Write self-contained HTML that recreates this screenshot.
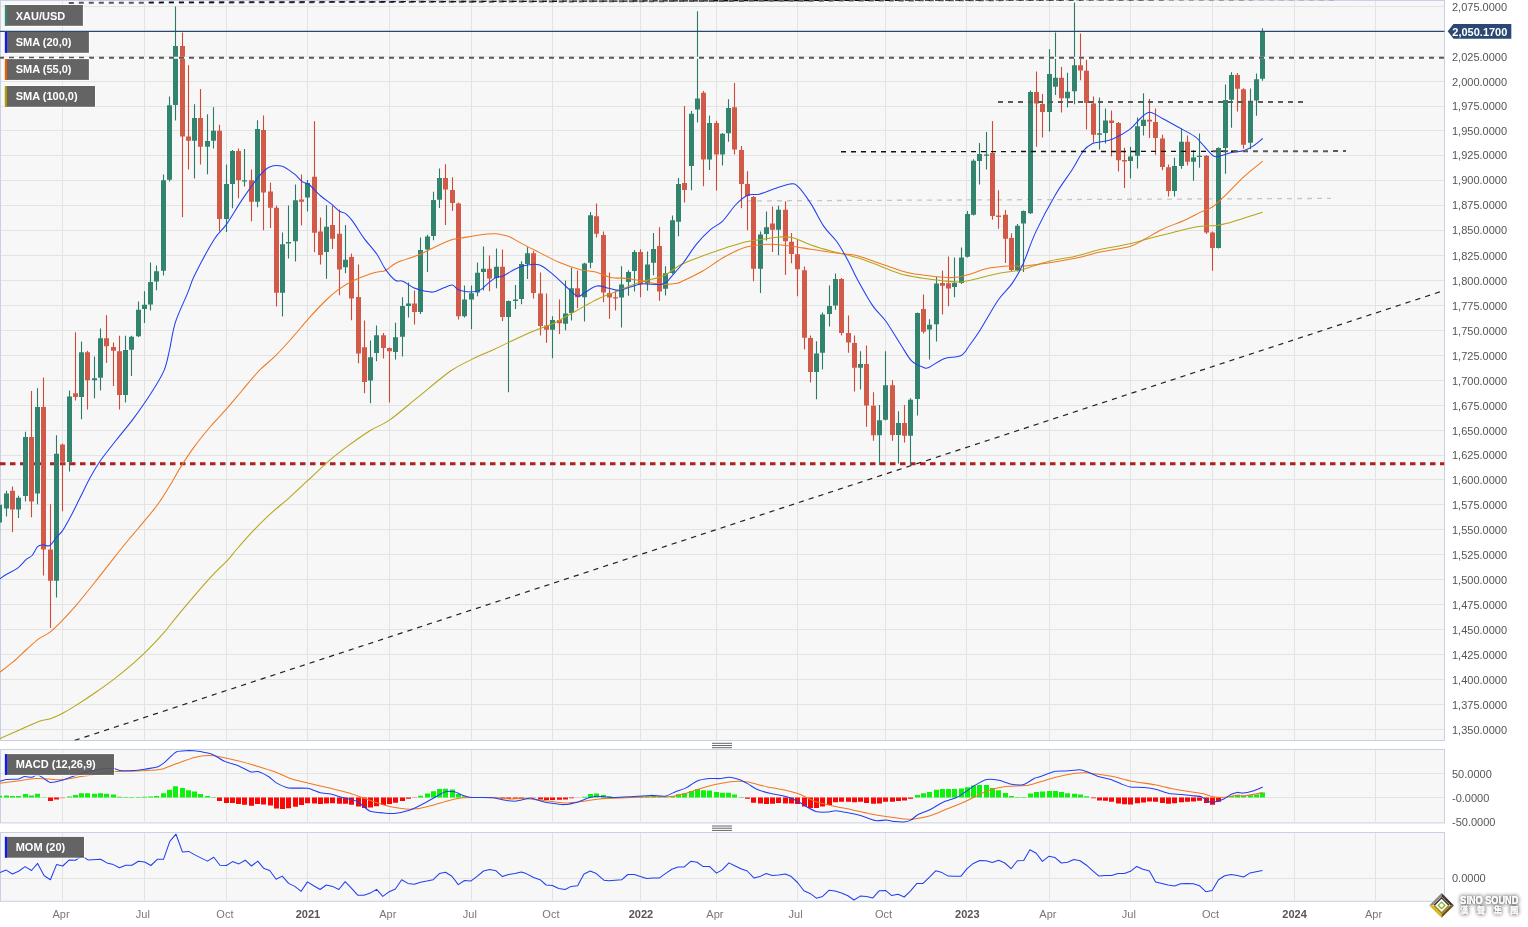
<!DOCTYPE html>
<html lang="en"><head><meta charset="utf-8"><title>XAU/USD weekly chart</title>
<style>
html,body{margin:0;padding:0;background:#fff;}
body{width:1528px;height:927px;overflow:hidden;font-family:"Liberation Sans", Arial, sans-serif;}
svg{display:block;}
</style></head><body>
<svg width="1528" height="927" viewBox="0 0 1528 927" font-family="'Liberation Sans', Arial, sans-serif">
<defs>
<clipPath id="cm"><rect x="0" y="0" width="1444.5" height="740.5"/></clipPath>
<clipPath id="cd"><rect x="0" y="749.5" width="1444.5" height="73.4"/></clipPath>
<clipPath id="co"><rect x="0" y="832.5" width="1444.5" height="68.8"/></clipPath>
<filter id="sh" x="-20%" y="-40%" width="140%" height="180%"><feGaussianBlur in="SourceAlpha" stdDeviation="1.9"/><feOffset dx="0.2" dy="0.3"/><feComponentTransfer><feFuncA type="linear" slope="0.62"/></feComponentTransfer><feMerge><feMergeNode/><feMergeNode/><feMergeNode in="SourceGraphic"/></feMerge></filter>
</defs>
<rect width="1528" height="927" fill="#fff"/>
<rect x="0.5" y="0.5" width="1444" height="740" fill="#f7f7f7" stroke="#c8d0e3" stroke-width="1"/>
<rect x="0.5" y="749.5" width="1444" height="73.4" fill="#f7f7f7" stroke="#c8d0e3" stroke-width="1"/>
<rect x="0.5" y="832.5" width="1444" height="68.8" fill="#f7f7f7" stroke="#c8d0e3" stroke-width="1"/>
<path d="M1 6.5 H1444 M1 31.5 H1444 M1 56.5 H1444 M1 81.5 H1444 M1 106.5 H1444 M1 130.5 H1444 M1 155.5 H1444 M1 180.5 H1444 M1 205.5 H1444 M1 230.5 H1444 M1 255.5 H1444 M1 280.5 H1444 M1 305.5 H1444 M1 330.5 H1444 M1 355.5 H1444 M1 380.5 H1444 M1 405.5 H1444 M1 430.5 H1444 M1 455.5 H1444 M1 479.5 H1444 M1 504.5 H1444 M1 529.5 H1444 M1 554.5 H1444 M1 579.5 H1444 M1 604.5 H1444 M1 629.5 H1444 M1 654.5 H1444 M1 679.5 H1444 M1 704.5 H1444 M1 729.5 H1444 M1 773.5 H1444 M1 797.5 H1444 M1 878.5 H1444 M62.5 1 V740 M62.5 750 V822.4 M62.5 833 V900.8 M144.5 1 V740 M144.5 750 V822.4 M144.5 833 V900.8 M226.5 1 V740 M226.5 750 V822.4 M226.5 833 V900.8 M307.5 1 V740 M307.5 750 V822.4 M307.5 833 V900.8 M389.5 1 V740 M389.5 750 V822.4 M389.5 833 V900.8 M471.5 1 V740 M471.5 750 V822.4 M471.5 833 V900.8 M552.5 1 V740 M552.5 750 V822.4 M552.5 833 V900.8 M640.5 1 V740 M640.5 750 V822.4 M640.5 833 V900.8 M716.5 1 V740 M716.5 750 V822.4 M716.5 833 V900.8 M797.5 1 V740 M797.5 750 V822.4 M797.5 833 V900.8 M885.5 1 V740 M885.5 750 V822.4 M885.5 833 V900.8 M966.5 1 V740 M966.5 750 V822.4 M966.5 833 V900.8 M1049.5 1 V740 M1049.5 750 V822.4 M1049.5 833 V900.8 M1130.5 1 V740 M1130.5 750 V822.4 M1130.5 833 V900.8 M1212.5 1 V740 M1212.5 750 V822.4 M1212.5 833 V900.8 M1294.5 1 V740 M1294.5 750 V822.4 M1294.5 833 V900.8 M1375.5 1 V740 M1375.5 750 V822.4 M1375.5 833 V900.8" stroke="#e3e3e3" stroke-width="1" fill="none"/>
<g clip-path="url(#cm)">
<path d="M747 200.9 L1331 198.4" stroke="#c6c6c6" stroke-width="1.3" stroke-dasharray="5 5" fill="none"/>
<path d="M0 463.8 H1444.5" stroke="#b01e1e" stroke-width="3" stroke-dasharray="5.5 4.5" fill="none"/>
<path d="M74.7 740.4 L1444.1 290.5" stroke="#222" stroke-width="1.2" stroke-dasharray="5.2 5.1" fill="none"/>
<path d="M12.5 486.4 V532.3 M31.5 391.1 V517.2 M43.5 377.5 V575.5 M50.5 504.3 V628.1 M62.5 443.5 V511.2 M75.5 332.2 V400.4 M87.5 350.8 V409.4 M106.5 315.2 V363.1 M113.5 342.6 V386.1 M119.5 335.7 V409.4 M182.5 32.4 V217.3 M188.5 65.2 V169.4 M200.5 89.1 V164.5 M219.5 124.7 V231.6 M238.5 148.4 V198.3 M251.5 169.4 V221.2 M263.5 115.4 V230.3 M270.5 182.4 V228.1 M276.5 205.7 V306.4 M301.5 174.4 V225.5 M314.5 121.2 V252.3 M320.5 217.5 V264.4 M332.5 205.7 V248.9 M339.5 209.6 V295.3 M351.5 253.4 V320.2 M358.5 264.5 V363.3 M364.5 320.6 V393.3 M383.5 333.1 V358.4 M389.5 347.6 V402.6 M414.5 290.5 V324.5 M445.5 164.3 V225.1 M452.5 177.2 V211.1 M458.5 202.5 V319.5 M489.5 255.4 V291.2 M502.5 249.4 V321.2 M533.5 251.1 V298.5 M540.5 272.6 V335.6 M546.5 293.6 V342.8 M559.5 299.4 V334.1 M577.5 270.5 V308.2 M596.5 203.4 V237.5 M603.5 231.4 V302.2 M609.5 272.4 V318.8 M615.5 290.8 V310.4 M640.5 249.3 V297.2 M659.5 227.3 V300.7 M684.5 106.1 V202.4 M703.5 91 V186.3 M716.5 120.8 V190.4 M734.5 83.1 V154.4 M741.5 146.1 V208.3 M747.5 171.3 V230.3 M753.5 196 V281.2 M772.5 206.5 V252 M785.5 201.3 V275.1 M791.5 233.1 V263.3 M797.5 239.5 V296.3 M804.5 266.5 V349.5 M810.5 335.4 V382.5 M841.5 278 V335.6 M848.5 315.5 V352.7 M854.5 335.6 V391.5 M866.5 345.4 V426.7 M873.5 392.2 V440.7 M892.5 380.3 V440.7 M904.5 405.1 V442.5 M923.5 294.4 V333.5 M942.5 270.4 V314.5 M948.5 256.4 V306.3 M992.5 121.1 V219.7 M998.5 190.2 V228.8 M1005.5 210 V262.9 M1011.5 233.3 V271.5 M1036.5 71.6 V146.7 M1042.5 93.9 V137.6 M1061.5 66.9 V112.6 M1080.5 33.4 V80.3 M1086.5 59.8 V129.6 M1093.5 96.4 V142.7 M1111.5 110.5 V156.4 M1118.5 121.9 V171.5 M1124.5 147.8 V188.1 M1149.5 99.1 V138 M1155.5 108.5 V154.8 M1162.5 134.7 V170.3 M1168.5 164.4 V196.4 M1187.5 135.4 V165.6 M1206.5 155 V234.1 M1212.5 231.5 V270.8 M1237.5 73.1 V111.6 M1243.5 88.2 V148.8" stroke="#cc4a38" stroke-width="1.1" fill="none"/>
<path d="M-0.5 500 V533.2 M6.5 490.7 V516.6 M18.5 495.7 V518.1 M25.5 431.7 V501.5 M37.5 388.3 V504.3 M56.5 435.3 V597.5 M69.5 390.5 V471.6 M81.5 341.5 V419.2 M94.5 356.6 V398.2 M100.5 328.5 V390.5 M125.5 335.7 V402.5 M131.5 335.7 V376 M138.5 301.6 V337 M144.5 291.2 V323.1 M150.5 262.6 V310.5 M156.5 265.4 V290.2 M163.5 174.4 V275.6 M169.5 96.4 V181.5 M175.5 6.5 V120.4 M194.5 104.2 V178.6 M207.5 114.3 V174.3 M213.5 107.2 V148.4 M226.5 164.4 V232 M232.5 150 V208.3 M244.5 148.9 V186.4 M257.5 120.2 V207.2 M282.5 232.6 V316.6 M288.5 205.4 V258.5 M295.5 184.5 V261.5 M307.5 180.1 V211.5 M326.5 205.3 V278.7 M345.5 225.1 V273.2 M370.5 340.5 V403.2 M376.5 325.6 V361.2 M395.5 322.8 V359.4 M402.5 297.3 V356.6 M408.5 282.6 V317.4 M420.5 237.5 V314.1 M427.5 234.8 V272.1 M433.5 191.7 V240.3 M439.5 168.4 V207.9 M464.5 285.4 V317.4 M471.5 285.4 V329.2 M477.5 262.4 V296.2 M483.5 246.5 V290.5 M496.5 248.4 V288.2 M508.5 300.5 V392.2 M515.5 284.9 V309.1 M521.5 261.2 V304.3 M527.5 247.2 V279.1 M552.5 316.2 V358.3 M565.5 280.6 V330.2 M571.5 267.7 V320.5 M584.5 262.8 V321.6 M590.5 212 V268.3 M621.5 266.2 V327.4 M628.5 270.3 V295.7 M634.5 250 V291.4 M647.5 251.5 V290.8 M653.5 233.1 V275.2 M665.5 266.2 V295.4 M672.5 215.6 V274.1 M678.5 178 V236.3 M691.5 111.1 V190.2 M697.5 11.2 V122.5 M709.5 115.4 V170.1 M722.5 133 V165.4 M728.5 99.2 V141.7 M760.5 231.6 V293 M766.5 211.5 V240.6 M778.5 205.7 V255.3 M816.5 341.2 V399.3 M822.5 312.6 V369.5 M829.5 285.4 V326.4 M835.5 273.4 V309.8 M860.5 351.2 V389.4 M879.5 405.1 V465.1 M885.5 351.2 V420.5 M898.5 411.2 V463.4 M910.5 398.2 V465.1 M917.5 312.5 V415.5 M929.5 319.3 V359.4 M936.5 276.9 V341.5 M954.5 257.5 V297.3 M961.5 247.4 V284 M967.5 211.1 V257.5 M973.5 159.3 V215.5 M979.5 143.1 V184.6 M986.5 131.9 V169.5 M1017.5 224.1 V271.5 M1023.5 210.5 V272 M1030.5 90.6 V214 M1049.5 49.2 V131.4 M1055.5 32.4 V94.9 M1067.5 72.7 V107.4 M1074.5 2.6 V104.2 M1099.5 97.5 V149.4 M1105.5 108.5 V143.5 M1130.5 146.7 V178.6 M1137.5 117.6 V168.4 M1143.5 93.3 V135.4 M1174.5 157.7 V196.4 M1181.5 128.4 V168.7 M1193.5 150.1 V180.7 M1199.5 133.4 V167.7 M1218.5 147.2 V248.5 M1225.5 84.4 V173.7 M1231.5 72.3 V127.7 M1250.5 88.5 V149.3 M1256.5 73.4 V115.7 M1262.5 28.3 V80.7" stroke="#2a7a66" stroke-width="1.1" fill="none"/>
<path d="M10 490.7h5v18.8h-5z M29 437.1h5v64.4h-5z M41 406.9h5v142.7h-5z M48 549.6h5v31.1h-5z M60 444.4h5v17.4h-5z M73 393.3h5v3.6h-5z M85 352.3h5v28h-5z M104 338.3h5v7.9h-5z M111 346.9h5v3.9h-5z M117 351.2h5v43.8h-5z M180 46h5v90.6h-5z M186 136.6h5v4.1h-5z M198 118h5v28.7h-5z M217 130.7h5v88.3h-5z M236 151h5v29.2h-5z M249 180.2h5v21.6h-5z M261 129.9h5v62.7h-5z M268 191.5h5v16.3h-5z M274 207.8h5v85h-5z M299 199.6h5v2.2h-5z M312 176.8h5v55.9h-5z M318 231.6h5v23.4h-5z M330 225.1h5v13.6h-5z M337 233.8h5v35.6h-5z M349 257h5v41.6h-5z M356 296.9h5v56.7h-5z M362 347.2h5v34.9h-5z M381 335.3h5v12.7h-5z M387 348h5v3.3h-5z M412 303.4h5v8.6h-5z M443 178.1h5v11.4h-5z M450 190h5v13.1h-5z M456 203.6h5v112.7h-5z M487 268.8h5v9.7h-5z M500 266.8h5v50.3h-5z M531 253.2h5v39.7h-5z M538 293.6h5v32.3h-5z M544 325.5h5v4.3h-5z M557 320.1h5v3.2h-5z M575 288.2h5v9h-5z M594 216.3h5v17.5h-5z M601 234.9h5v57.6h-5z M607 293.1h5v4.3h-5z M613 297.2h5v1.2h-5z M638 251.9h5v32.4h-5z M657 246.1h5v45.3h-5z M682 183h5v6.9h-5z M701 92.8h5v66.7h-5z M714 123h5v31.6h-5z M732 107.2h5v42.3h-5z M739 149.9h5v34.1h-5z M745 184h5v12h-5z M751 197h5v71.7h-5z M770 223.4h5v6.4h-5z M783 209.8h5v31.5h-5z M789 241.7h5v12.3h-5z M795 254.2h5v15.1h-5z M802 270.2h5v67.6h-5z M808 337.9h5v34.2h-5z M839 279h5v53.9h-5z M846 333.1h5v9.5h-5z M852 343h5v24.8h-5z M864 364.1h5v41.5h-5z M871 405.8h5v29.5h-5z M890 385.3h5v49.6h-5z M902 423h5v12.8h-5z M921 309.1h5v22.7h-5z M940 283h5v2.7h-5z M946 283.2h5v5.2h-5z M990 152.9h5v63.2h-5z M996 215.4h5v1.5h-5z M1003 214.8h5v23.9h-5z M1009 238.1h5v31.9h-5z M1034 92.1h5v11.5h-5z M1040 104h5v8.1h-5z M1059 77.7h5v20.5h-5z M1078 65.2h5v5.4h-5z M1084 70.8h5v32.3h-5z M1091 103.6h5v31.1h-5z M1109 120.4h5v2.6h-5z M1116 123h5v37.3h-5z M1122 160.1h5v1.3h-5z M1147 119.8h5v1.8h-5z M1153 121.9h5v16.1h-5z M1160 138.5h5v28.6h-5z M1166 167.2h5v23.8h-5z M1185 141.8h5v20h-5z M1204 155.8h5v76.6h-5z M1210 232.4h5v15.5h-5z M1235 75h5v13.8h-5z M1241 89.3h5v55.5h-5z" fill="#d25a49"/>
<path d="M-3 504.7h5v17.9h-5z M4 493.5h5v15.1h-5z M16 497.8h5v11.7h-5z M23 437.1h5v59h-5z M35 406.9h5v86.6h-5z M54 453.7h5v127h-5z M67 396.5h5v65.4h-5z M79 352.3h5v44.6h-5z M92 378.2h5v2.1h-5z M98 338.3h5v39.4h-5z M123 350.1h5v44.9h-5z M129 336.7h5v13h-5z M136 309.8h5v26.5h-5z M142 304.8h5v4.3h-5z M148 282h5v22.4h-5z M154 271.3h5v10.3h-5z M161 180.2h5v90.6h-5z M167 105.3h5v74.4h-5z M173 46h5v59.1h-5z M192 118h5v22.7h-5z M205 140.9h5v5.8h-5z M211 130.7h5v10h-5z M224 183.9h5v35.1h-5z M230 151h5v32.9h-5z M242 180.2h5v1.2h-5z M255 129h5v72.8h-5z M280 244.3h5v48.5h-5z M286 242.1h5v1.3h-5z M293 200.3h5v41h-5z M305 183h5v14.5h-5z M324 226.8h5v25.3h-5z M343 259.7h5v7.5h-5z M368 357.3h5v23.3h-5z M374 335.3h5v17.7h-5z M393 337.2h5v14.7h-5z M400 305.9h5v30.9h-5z M406 303.4h5v2.5h-5z M418 249.9h5v62.1h-5z M425 236.4h5v13h-5z M431 199.9h5v36h-5z M437 178.1h5v21.6h-5z M462 299.5h5v16.8h-5z M469 293.2h5v6.3h-5z M475 272.7h5v19.9h-5z M481 268.8h5v3.3h-5z M494 266.8h5v11.1h-5z M506 301.1h5v16h-5z M513 299.6h5v1.5h-5z M519 264h5v35h-5z M525 253.2h5v10.8h-5z M550 320.1h5v9.7h-5z M563 313.6h5v10.2h-5z M569 288.2h5v24.8h-5z M582 263.4h5v33.8h-5z M588 215.2h5v47.5h-5z M619 284.5h5v12.9h-5z M626 272h5v10.1h-5z M632 251.9h5v19h-5z M645 264.4h5v19h-5z M651 248.9h5v13.8h-5z M663 273.2h5v15.6h-5z M670 220.2h5v52.9h-5z M676 184h5v37.8h-5z M689 113.7h5v52.3h-5z M695 98.6h5v11h-5z M707 123h5v36.5h-5z M720 133.8h5v20.8h-5z M726 107.9h5v25.4h-5z M758 234.6h5v34.1h-5z M764 227.2h5v6.9h-5z M776 209.8h5v20h-5z M814 353.4h5v18.7h-5z M820 314.5h5v38.2h-5z M827 305.9h5v8.2h-5z M833 279h5v26.4h-5z M858 364.1h5v3.7h-5z M877 420.2h5v15.1h-5z M883 385.3h5v34.5h-5z M896 423h5v11.9h-5z M908 399.7h5v36.1h-5z M915 313h5v86.1h-5z M927 324.7h5v4.9h-5z M934 283.5h5v40.7h-5z M952 283h5v4.1h-5z M959 257.5h5v25.5h-5z M965 213.9h5v42.9h-5z M971 160.8h5v54h-5z M977 153.9h5v7.2h-5z M984 154.6h5v1.2h-5z M1015 225.8h5v44.6h-5z M1021 211.1h5v12.5h-5z M1028 92.1h5v121.2h-5z M1047 74h5v38.1h-5z M1053 77.7h5v9h-5z M1065 91.7h5v6.5h-5z M1072 65.2h5v26.1h-5z M1097 133.3h5v1.5h-5z M1103 120.4h5v12.7h-5z M1128 156.4h5v4.6h-5z M1135 126.2h5v29.6h-5z M1141 119.8h5v6.1h-5z M1172 166h5v25h-5z M1179 141.8h5v24.2h-5z M1191 157.5h5v4.3h-5z M1197 155.8h5v1.2h-5z M1216 147.9h5v100h-5z M1223 100h5v47.9h-5z M1229 75h5v24.8h-5z M1248 100.7h5v42.1h-5z M1254 79.3h5v21.2h-5z M1260 31.8h5v47h-5z" fill="#33846f"/>
<path d="M0 738.5 C2.95 737.2 11.25 733.55 17.7 730.7 C24.15 727.85 33.25 723.38 38.7 721.4 C44.15 719.42 46.33 720.2 50.4 718.8 C54.47 717.4 58.97 715.15 63.1 713 C67.23 710.85 69.87 709.28 75.2 705.9 C80.53 702.52 88.47 697.3 95.1 692.7 C101.73 688.1 108.73 683.1 115 678.3 C121.27 673.5 127.53 668.33 132.7 663.9 C137.87 659.47 140.83 656.87 146 651.7 C151.17 646.53 158.53 638.8 163.7 632.9 C168.87 627 171.83 622.57 177 616.3 C182.17 610.03 188.8 602.12 194.7 595.3 C200.6 588.48 206.87 581.3 212.4 575.4 C217.93 569.5 223.95 564.13 227.9 559.9 C231.85 555.67 231.93 554.78 236.1 550 C240.27 545.22 247.28 537.13 252.9 531.2 C258.52 525.27 263.72 520 269.8 514.4 C275.88 508.8 283.1 503.22 289.4 497.6 C295.7 491.98 301.05 486.78 307.6 480.7 C314.15 474.62 321.92 466.93 328.7 461.1 C335.48 455.27 341.3 450.83 348.3 445.7 C355.3 440.57 363.78 434.6 370.7 430.3 C377.62 426 381.93 425.42 389.8 419.9 C397.67 414.38 407.83 405.3 417.9 397.2 C427.97 389.1 441.22 377.6 450.2 371.3 C459.18 365 464.6 363 471.8 359.4 C479 355.8 486.77 352.77 493.4 349.7 C500.03 346.63 504.97 344.07 511.6 341 C518.23 337.93 526.02 334.35 533.2 331.3 C540.38 328.25 547.52 326.12 554.7 322.7 C561.88 319.28 569.1 314.75 576.3 310.8 C583.5 306.85 590.7 302.42 597.9 299 C605.1 295.58 612.32 293.18 619.5 290.3 C626.68 287.42 633.82 284.03 641 281.7 C648.18 279.37 655.83 279.2 662.6 276.3 C669.37 273.4 674.85 267.73 681.6 264.3 C688.35 260.87 695.92 258.38 703.1 255.7 C710.28 253.02 717.5 250.53 724.7 248.2 C731.9 245.87 739.1 243.32 746.3 241.7 C753.5 240.08 762.15 239.3 767.9 238.5 C773.65 237.7 776.48 236.98 780.8 236.9 C785.12 236.82 788.77 236.67 793.8 238 C798.83 239.33 804.53 242.67 811 244.9 C817.47 247.13 826.48 249.7 832.6 251.4 C838.72 253.1 843.13 253.92 847.7 255.1 C852.27 256.28 854.62 256.68 860 258.5 C865.38 260.32 873.33 263.47 880 266 C886.67 268.53 893.07 271.7 900 273.7 C906.93 275.7 914.42 276.82 921.6 278 C928.78 279.18 936.63 280.15 943.1 280.8 C949.57 281.45 955 282.18 960.4 281.9 C965.8 281.62 969.38 280.47 975.5 279.1 C981.62 277.73 989.9 275.15 997.1 273.7 C1004.3 272.25 1013.32 271.48 1018.7 270.4 C1024.08 269.32 1024.02 268.82 1029.4 267.2 C1034.78 265.58 1043.8 262.42 1051 260.7 C1058.2 258.98 1066.85 258.08 1072.6 256.9 C1078.35 255.72 1080.93 254.83 1085.5 253.6 C1090.07 252.37 1092.58 251.13 1100 249.5 C1107.42 247.87 1121.4 245.75 1130 243.8 C1138.6 241.85 1144.42 239.7 1151.6 237.8 C1158.78 235.9 1165.2 234.27 1173.1 232.4 C1181 230.53 1191.8 227.75 1199 226.6 C1206.2 225.45 1211.62 226.05 1216.3 225.5 C1220.98 224.95 1222.43 224.57 1227.1 223.3 C1231.77 222.03 1238.37 219.73 1244.3 217.9 C1250.23 216.07 1259.63 213.23 1262.7 212.3" stroke="#b5a518" stroke-width="1.05" fill="none" stroke-linejoin="round" />
<path d="M0 672.1 C2.22 670.37 8.88 665.47 13.3 661.7 C17.72 657.93 22.27 653.3 26.5 649.5 C30.73 645.7 34.72 641.85 38.7 638.9 C42.68 635.95 46.33 635.02 50.4 631.8 C54.47 628.58 58.97 623.83 63.1 619.6 C67.23 615.37 69.87 612.67 75.2 606.4 C80.53 600.13 88.47 590.3 95.1 582 C101.73 573.7 109.47 563.6 115 556.6 C120.53 549.6 124.45 544.68 128.3 540 C132.15 535.32 133.23 534.38 138.1 528.5 C142.97 522.62 151.75 512.62 157.5 504.7 C163.25 496.78 168.85 487.1 172.6 481 C176.35 474.9 176.43 473.75 180 468.1 C183.57 462.45 188.85 454.12 194 447.1 C199.15 440.08 205.52 432.32 210.9 426 C216.28 419.68 221.17 415.03 226.3 409.2 C231.43 403.37 236.33 397.32 241.7 391 C247.07 384.68 252.88 377.15 258.5 371.3 C264.12 365.45 269.78 361.5 275.4 355.9 C281.02 350.3 286.6 344 292.2 337.7 C297.8 331.4 303.33 324.38 309 318.1 C314.67 311.82 321.37 304.7 326.2 300 C331.03 295.3 333.52 293.1 338 289.9 C342.48 286.7 346.98 283.68 353.1 280.8 C359.22 277.92 369.3 274.33 374.7 272.6 C380.1 270.87 381.9 272.02 385.5 270.4 C389.1 268.78 390.9 265.42 396.3 262.9 C401.7 260.38 412.15 257.63 417.9 255.3 C423.65 252.97 425.42 251.42 430.8 248.9 C436.18 246.38 445.17 242 450.2 240.2 C455.23 238.4 455.6 239.07 461 238.1 C466.4 237.13 476.85 235.12 482.6 234.4 C488.35 233.68 492.12 233.72 495.5 233.8 C498.88 233.88 500.48 234.37 502.9 234.9 C505.32 235.43 506.75 235.5 510 237 C513.25 238.5 517.47 241.3 522.4 243.9 C527.33 246.5 533.5 249.53 539.6 252.6 C545.7 255.67 552.17 259.43 559 262.3 C565.83 265.17 574.48 268.18 580.6 269.8 C586.72 271.42 590.67 270.73 595.7 272 C600.73 273.27 605.4 276.32 610.8 277.4 C616.2 278.48 622.35 277.78 628.1 278.5 C633.85 279.22 639.55 280.73 645.3 281.7 C651.05 282.67 657.57 284.02 662.6 284.3 C667.63 284.58 672.33 283.85 675.5 283.4 C678.67 282.95 677 283.7 681.6 281.6 C686.2 279.5 695.92 274.93 703.1 270.8 C710.28 266.67 717.5 260.75 724.7 256.8 C731.9 252.85 739.1 249.18 746.3 247.1 C753.5 245.02 760.72 244.48 767.9 244.3 C775.08 244.12 782.22 245.18 789.4 246 C796.58 246.82 803.8 248.12 811 249.2 C818.2 250.28 826.48 251.67 832.6 252.5 C838.72 253.33 843.13 253.55 847.7 254.2 C852.27 254.85 854.62 254.85 860 256.4 C865.38 257.95 873.33 261.17 880 263.5 C886.67 265.83 894.87 268.78 900 270.4 C905.13 272.02 907.2 272.47 910.8 273.2 C914.4 273.93 916.22 274.12 921.6 274.8 C926.98 275.48 937.35 276.88 943.1 277.3 C948.85 277.72 951.42 277.9 956.1 277.3 C960.78 276.7 966.17 275.13 971.2 273.7 C976.23 272.27 980.18 269.97 986.3 268.7 C992.42 267.43 1001.78 266.53 1007.9 266.1 C1014.02 265.67 1017.62 266.45 1023 266.1 C1028.38 265.75 1033.73 264.9 1040.2 264 C1046.67 263.1 1054.6 261.97 1061.8 260.7 C1069 259.43 1077.03 257.83 1083.4 256.4 C1089.77 254.97 1092.23 253.77 1100 252.1 C1107.77 250.43 1122.48 248.6 1130 246.4 C1137.52 244.2 1139.7 241.77 1145.1 238.9 C1150.5 236.03 1155.93 232.27 1162.4 229.2 C1168.87 226.13 1177.43 223.38 1183.9 220.5 C1190.37 217.62 1196.33 214.23 1201.2 211.9 C1206.07 209.57 1208.78 209.55 1213.1 206.5 C1217.42 203.45 1221.9 198.63 1227.1 193.6 C1232.3 188.57 1238.37 181.7 1244.3 176.3 C1250.23 170.9 1259.63 163.72 1262.7 161.2" stroke="#f07820" stroke-width="1.05" fill="none" stroke-linejoin="round" />
<path d="M0 578.7 C1.1 577.97 3.65 576.07 6.6 574.3 C9.55 572.53 14.38 570.62 17.7 568.1 C21.02 565.58 24.1 561.3 26.5 559.2 C28.9 557.1 30.25 557.6 32.1 555.5 C33.95 553.4 35.77 548.37 37.6 546.6 C39.43 544.83 41.07 545.08 43.1 544.9 C45.13 544.72 47.57 546.8 49.8 545.5 C52.03 544.2 54.37 539.58 56.5 537.1 C58.63 534.62 60.15 534.2 62.6 530.6 C65.05 527 68.33 520.88 71.2 515.5 C74.07 510.12 76.57 504.77 79.8 498.3 C83.03 491.83 87 483.2 90.6 476.7 C94.2 470.2 97.08 465.45 101.4 459.3 C105.72 453.15 111.1 446.67 116.5 439.8 C121.9 432.93 128.05 425.85 133.8 418.1 C139.55 410.35 145.97 401.22 151 393.3 C156.03 385.38 160.92 377.82 164 370.6 C167.08 363.38 167.62 358 169.5 350 C171.38 342 172.27 332.12 175.3 322.6 C178.33 313.08 184.47 300.82 187.7 292.9 C190.93 284.98 190.3 284 194.7 275.1 C199.1 266.2 208.82 247.95 214.1 239.5 C219.38 231.05 221.72 231.05 226.4 224.4 C231.08 217.75 236.7 207.68 242.2 199.6 C247.7 191.52 254.73 181.37 259.4 175.9 C264.07 170.43 266.42 168.42 270.2 166.8 C273.98 165.18 278.13 165.05 282.1 166.2 C286.07 167.35 290.58 171.08 294 173.7 C297.42 176.32 300.1 180.1 302.6 181.9 C305.1 183.7 305.97 182.15 309 184.5 C312.03 186.85 317.03 192.72 320.8 196 C324.57 199.28 328.55 201.68 331.6 204.2 C334.65 206.72 336.77 209.52 339.1 211.1 C341.43 212.68 343.27 211.9 345.6 213.7 C347.93 215.5 350.05 217.83 353.1 221.9 C356.15 225.97 359.93 232.7 363.9 238.1 C367.87 243.5 373.3 249.08 376.9 254.3 C380.5 259.52 382.45 265.08 385.5 269.4 C388.55 273.72 392.32 278.23 395.2 280.2 C398.08 282.17 399.73 279.95 402.8 281.2 C405.87 282.45 410.02 286.08 413.6 287.7 C417.18 289.32 421 290.18 424.3 290.9 C427.6 291.62 430.15 292.53 433.4 292 C436.65 291.47 440.63 288.85 443.8 287.7 C446.97 286.55 449.88 284.73 452.4 285.1 C454.92 285.47 455.85 288.75 458.9 289.9 C461.95 291.05 467.12 292 470.7 292 C474.28 292 477.33 291.52 480.4 289.9 C483.47 288.28 486.4 284.4 489.1 282.3 C491.8 280.2 494.3 278.37 496.6 277.3 C498.9 276.23 499.33 277.5 502.9 275.9 C506.47 274.3 513.85 269.53 518 267.7 C522.15 265.87 524.2 265.33 527.8 264.9 C531.4 264.47 535.47 263.57 539.6 265.1 C543.73 266.63 548.28 270.62 552.6 274.1 C556.92 277.58 561.37 282.33 565.5 286 C569.63 289.67 574.17 295.02 577.4 296.1 C580.63 297.18 581.67 294.18 584.9 292.5 C588.13 290.82 592.83 286.72 596.8 286 C600.77 285.28 604.92 287.48 608.7 288.2 C612.48 288.92 615.92 290.48 619.5 290.3 C623.08 290.12 626.62 288.17 630.2 287.1 C633.78 286.03 635.97 284.33 641 283.9 C646.03 283.47 656.08 284.87 660.4 284.5 C664.72 284.13 665.17 282.9 666.9 281.7 C668.63 280.5 668 280.55 670.8 277.3 C673.6 274.05 679.38 267.77 683.7 262.2 C688.02 256.63 692.2 249.37 696.7 243.9 C701.2 238.43 706.38 233.18 710.7 229.4 C715.02 225.62 718.47 225.27 722.6 221.2 C726.73 217.13 731.37 209.32 735.5 205 C739.63 200.68 743.45 197.1 747.4 195.3 C751.35 193.5 754.72 195.28 759.2 194.2 C763.68 193.12 769.08 190.52 774.3 188.8 C779.52 187.08 786.53 184.25 790.5 183.9 C794.47 183.55 794.68 183.37 798.1 186.7 C801.52 190.03 806.68 197.25 811 203.9 C815.32 210.55 819.68 220.3 824 226.6 C828.32 232.9 832.95 236.13 836.9 241.7 C840.85 247.27 844.23 253.62 847.7 260 C851.17 266.38 853.52 272.35 857.7 280 C861.88 287.65 868.13 299.07 872.8 305.9 C877.47 312.73 881.03 314.53 885.7 321 C890.37 327.47 896.48 338.05 900.8 344.7 C905.12 351.35 907.82 357.12 911.6 360.9 C915.38 364.68 920.62 366.32 923.5 367.4 C926.38 368.48 925.48 368.85 928.9 367.4 C932.32 365.95 938.62 360.68 944 358.7 C949.38 356.72 956.88 357.83 961.2 355.5 C965.52 353.17 966.77 348.9 969.9 344.7 C973.03 340.5 975.28 337.75 980 330.3 C984.72 322.85 992.83 307.82 998.2 300 C1003.57 292.18 1008.07 289.4 1012.2 283.4 C1016.33 277.4 1019.05 272.63 1023 264 C1026.95 255.37 1030.52 243.12 1035.9 231.6 C1041.28 220.08 1049.18 205.33 1055.3 194.9 C1061.42 184.47 1067.92 176.37 1072.6 169 C1077.28 161.63 1080.17 154.9 1083.4 150.7 C1086.63 146.5 1089.23 145.23 1092 143.8 C1094.77 142.37 1096.63 142.87 1100 142.1 C1103.37 141.33 1107.3 141.28 1112.2 139.2 C1117.1 137.12 1124.63 133.13 1129.4 129.6 C1134.17 126.07 1137.4 120.9 1140.8 118 C1144.2 115.1 1146.2 112.12 1149.8 112.2 C1153.4 112.28 1157.78 116.08 1162.4 118.5 C1167.02 120.92 1172.12 123.72 1177.5 126.7 C1182.88 129.68 1190.75 133.7 1194.7 136.4 C1198.65 139.1 1198.13 139.67 1201.2 142.9 C1204.27 146.13 1209.87 153.65 1213.1 155.8 C1216.33 157.95 1217.55 156.33 1220.6 155.8 C1223.65 155.27 1227.45 153.5 1231.4 152.6 C1235.35 151.7 1240.7 151.48 1244.3 150.4 C1247.9 149.32 1249.93 148.08 1253 146.1 C1256.07 144.12 1261.08 139.77 1262.7 138.5" stroke="#2040f0" stroke-width="1.05" fill="none" stroke-linejoin="round" />
<path d="M68.8 2.9 L1444 -1.2" stroke="#fbfbfb" stroke-width="2" fill="none"/>
<path d="M68.8 2.9 L1444 -1.2" stroke="#595959" stroke-width="2" stroke-dasharray="5 5" fill="none"/>
<path d="M148.8 2.45 L1444 -1.4" stroke="#111" stroke-width="1.3" stroke-dasharray="5 5.08" fill="none"/>
<path d="M0 57.8 H1444.5" stroke="#fbfbfb" stroke-width="2" fill="none"/>
<path d="M-1 57.8 H1444.5" stroke="#595959" stroke-width="2" stroke-dasharray="5 5" fill="none"/>
<path d="M998 101.9 H1303" stroke="#595959" stroke-width="2" stroke-dasharray="5 5" fill="none"/>
<path d="M841 151.8 L1236 151.3" stroke="#111" stroke-width="1.4" stroke-dasharray="5 5" fill="none"/>
<path d="M1213 151.3 L1346 151.1" stroke="#595959" stroke-width="2" stroke-dasharray="5 5" fill="none"/>
</g>
<g clip-path="url(#cd)">
<path d="M-3 795.8h5v1.8h-5z M4 795.5h5v2.1h-5z M10 796h5v1.6h-5z M16 796h5v1.6h-5z M23 794.1h5v3.5h-5z M29 795.5h5v2.1h-5z M35 793.7h5v3.9h-5z M41 797.3h5v0.3h-5z M67 796.4h5v1.2h-5z M73 795.1h5v2.5h-5z M79 793.2h5v4.4h-5z M85 793.2h5v4.4h-5z M92 793.7h5v3.9h-5z M98 793.2h5v4.4h-5z M104 793.7h5v3.9h-5z M111 794.6h5v3h-5z M117 796.7h5v0.9h-5z M123 797.1h5v0.5h-5z M129 797.1h5v0.5h-5z M136 796.9h5v0.7h-5z M142 796.7h5v0.9h-5z M148 796.4h5v1.2h-5z M154 796h5v1.6h-5z M161 793.2h5v4.4h-5z M167 789.8h5v7.8h-5z M173 786.3h5v11.3h-5z M180 788.1h5v9.5h-5z M186 790.2h5v7.4h-5z M192 791.4h5v6.2h-5z M198 794.1h5v3.5h-5z M205 796h5v1.6h-5z M211 797.1h5v0.5h-5z M418 795.7h5v1.9h-5z M425 793.6h5v4h-5z M431 791.2h5v6.4h-5z M437 789.1h5v8.5h-5z M443 788.8h5v8.8h-5z M450 789.5h5v8.1h-5z M456 793.9h5v3.7h-5z M462 796.2h5v1.4h-5z M469 797.3h5v0.3h-5z M475 797.4h5v0.2h-5z M481 797.4h5v0.2h-5z M525 797.3h5v0.3h-5z M582 796.7h5v0.9h-5z M588 794.1h5v3.5h-5z M594 793.4h5v4.2h-5z M601 795.1h5v2.5h-5z M607 796.2h5v1.4h-5z M613 796.9h5v0.7h-5z M619 797.1h5v0.5h-5z M626 796.9h5v0.7h-5z M632 796.4h5v1.2h-5z M638 796.4h5v1.2h-5z M645 796.6h5v1h-5z M651 796h5v1.6h-5z M657 796.7h5v0.9h-5z M663 796.9h5v0.7h-5z M670 796h5v1.6h-5z M676 794.2h5v3.4h-5z M682 793.2h5v4.4h-5z M689 790.9h5v6.7h-5z M695 789.1h5v8.5h-5z M701 790.2h5v7.4h-5z M707 790.5h5v7.1h-5z M714 791.9h5v5.7h-5z M720 792.8h5v4.8h-5z M726 792.8h5v4.8h-5z M732 794.6h5v3h-5z M739 797.1h5v0.5h-5z M915 795.1h5v2.5h-5z M921 793.2h5v4.4h-5z M927 791.9h5v5.7h-5z M934 789.8h5v7.8h-5z M940 788.9h5v8.7h-5z M946 788.9h5v8.7h-5z M952 788.9h5v8.7h-5z M959 788.4h5v9.2h-5z M965 787.2h5v10.4h-5z M971 785.6h5v12h-5z M977 784.9h5v12.7h-5z M984 785.1h5v12.5h-5z M990 787.9h5v9.7h-5z M996 790.2h5v7.4h-5z M1003 793h5v4.6h-5z M1009 796h5v1.6h-5z M1015 796.9h5v0.7h-5z M1021 797.1h5v0.5h-5z M1028 793.4h5v4.2h-5z M1034 791.9h5v5.7h-5z M1040 791.6h5v6h-5z M1047 790.9h5v6.7h-5z M1053 790.9h5v6.7h-5z M1059 792.1h5v5.5h-5z M1065 793.2h5v4.4h-5z M1072 793.7h5v3.9h-5z M1078 794.4h5v3.2h-5z M1084 796.2h5v1.4h-5z M1229 796h5v1.6h-5z M1235 794.8h5v2.8h-5z M1241 795.8h5v1.8h-5z M1248 795.3h5v2.3h-5z M1254 794.4h5v3.2h-5z M1260 792.5h5v5.1h-5z" fill="#0cf20c"/>
<path d="M48 797.6h5v3.5h-5z M54 797.6h5v1.8h-5z M217 797.6h5v3.5h-5z M224 797.6h5v5.3h-5z M230 797.6h5v5.3h-5z M236 797.6h5v6.4h-5z M242 797.6h5v7.1h-5z M249 797.6h5v8.1h-5z M255 797.6h5v6.4h-5z M261 797.6h5v7h-5z M268 797.6h5v8h-5z M274 797.6h5v11h-5z M280 797.6h5v11.3h-5z M286 797.6h5v10.6h-5z M293 797.6h5v9.2h-5z M299 797.6h5v7.4h-5z M305 797.6h5v5.7h-5z M312 797.6h5v6h-5z M318 797.6h5v6.5h-5z M324 797.6h5v6h-5z M330 797.6h5v5.7h-5z M337 797.6h5v6.2h-5z M343 797.6h5v6.2h-5z M349 797.6h5v7.1h-5z M356 797.6h5v8.8h-5z M362 797.6h5v10.4h-5z M368 797.6h5v10h-5z M374 797.6h5v8.7h-5z M381 797.6h5v7.4h-5z M387 797.6h5v6.5h-5z M393 797.6h5v5.1h-5z M400 797.6h5v3.4h-5z M406 797.6h5v1.2h-5z M494 797.6h5v0.2h-5z M500 797.6h5v1h-5z M506 797.6h5v1.5h-5z M513 797.6h5v1.5h-5z M519 797.6h5v1.2h-5z M538 797.6h5v1.8h-5z M544 797.6h5v2.5h-5z M550 797.6h5v2.5h-5z M557 797.6h5v2.1h-5z M563 797.6h5v1.8h-5z M569 797.6h5v0.7h-5z M745 797.6h5v1.1h-5z M751 797.6h5v5.1h-5z M758 797.6h5v6h-5z M764 797.6h5v6.5h-5z M770 797.6h5v6.2h-5z M776 797.6h5v5.5h-5z M783 797.6h5v5.8h-5z M789 797.6h5v6h-5z M795 797.6h5v6.5h-5z M802 797.6h5v8.8h-5z M808 797.6h5v10.4h-5z M814 797.6h5v10.4h-5z M820 797.6h5v8.8h-5z M827 797.6h5v7.4h-5z M833 797.6h5v4.6h-5z M839 797.6h5v4.2h-5z M846 797.6h5v4.2h-5z M852 797.6h5v4.6h-5z M858 797.6h5v4.2h-5z M864 797.6h5v5.3h-5z M871 797.6h5v6.2h-5z M877 797.6h5v6h-5z M883 797.6h5v4.2h-5z M890 797.6h5v4.2h-5z M896 797.6h5v3.5h-5z M902 797.6h5v3h-5z M908 797.6h5v1.2h-5z M1091 797.6h5v0.7h-5z M1097 797.6h5v2.8h-5z M1103 797.6h5v3.2h-5z M1109 797.6h5v4.1h-5z M1116 797.6h5v5.8h-5z M1122 797.6h5v6.7h-5z M1128 797.6h5v6.9h-5z M1135 797.6h5v5.7h-5z M1141 797.6h5v4.8h-5z M1147 797.6h5v3.9h-5z M1153 797.6h5v4.1h-5z M1160 797.6h5v5.3h-5z M1166 797.6h5v6.2h-5z M1172 797.6h5v5.7h-5z M1179 797.6h5v4.6h-5z M1185 797.6h5v4.2h-5z M1191 797.6h5v3.9h-5z M1197 797.6h5v3.2h-5z M1204 797.6h5v5.3h-5z M1210 797.6h5v7.1h-5z M1216 797.6h5v4.2h-5z M1223 797.6h5v0.5h-5z" fill="#fb0606"/>
<path d="M60 797.6h5v0.7h-5z M412 797.6h5v0.3h-5z M531 797.6h5v0.4h-5z M575 797.6h5v0.2h-5z" fill="#ff7a7a"/>
<path d="M0 783.3 C2.06 783.02 13.58 781.45 17.7 780.9 C21.82 780.35 31.59 778.81 35.3 778.6 C39.01 778.39 46.41 778.96 49.5 779.1 C52.59 779.24 58.3 780.07 61.8 779.8 C65.3 779.53 75.37 777.45 79.5 776.8 C83.63 776.15 93.07 774.82 97.2 774.2 C101.33 773.58 110.78 771.85 114.9 771.5 C119.02 771.15 128.38 771.34 132.5 771.2 C136.62 771.06 146.69 770.57 150.2 770.3 C153.71 770.03 159.51 769.68 162.6 768.9 C165.69 768.12 172.99 764.94 176.7 763.6 C180.41 762.26 190.69 758.33 194.4 757.4 C198.11 756.47 205.41 755.65 208.5 755.6 C211.59 755.55 217.39 756.38 220.9 757 C224.41 757.62 234.48 759.86 238.6 760.9 C242.72 761.94 252.06 764.66 256.2 765.9 C260.34 767.14 269.95 769.96 274.1 771.5 C278.25 773.04 287.88 777.76 291.8 779.1 C295.72 780.44 303.16 781.93 307.7 783 C312.24 784.07 325.95 787.17 330.7 788.3 C335.45 789.43 344.69 791.6 348.4 792.7 C352.11 793.8 358.38 796.25 362.5 797.7 C366.62 799.15 379.16 803.83 383.7 805.1 C388.24 806.37 397.9 808.14 401.4 808.6 C404.9 809.06 410.61 809.25 413.7 809 C416.79 808.75 424.19 807.38 427.9 806.5 C431.61 805.62 442 802.45 445.5 801.5 C449 800.55 454.81 798.87 457.9 798.4 C460.99 797.93 467.67 797.58 472 797.5 C476.33 797.42 490.46 797.54 495 797.7 C499.54 797.86 507.98 798.82 510.9 798.9 C513.82 798.98 517.29 798.34 520 798.4 C522.71 798.46 530.39 799.04 534.1 799.4 C537.81 799.76 548.09 801.08 551.8 801.5 C555.51 801.92 562.4 803 565.9 803 C569.4 803 577.88 801.98 581.8 801.5 C585.72 801.02 594.34 799.34 599.5 798.9 C604.66 798.46 619.82 797.95 626 797.7 C632.18 797.46 647.34 796.93 652.5 796.8 C657.66 796.67 666.07 797.08 670.2 796.6 C674.33 796.12 683.78 793.83 687.9 792.7 C692.02 791.57 701.38 788.03 705.5 786.9 C709.62 785.77 719.48 783.66 723.2 783 C726.92 782.34 734.51 781.31 737.4 781.2 C740.29 781.1 744.5 781.44 748 782.1 C751.5 782.76 763.67 786.07 767.4 786.9 C771.13 787.73 776.47 788.42 780 789.2 C783.53 789.98 793.58 792.17 797.7 793.6 C801.82 795.03 811.18 800.05 815.3 801.5 C819.42 802.95 828.87 805.07 833 806 C837.13 806.93 846.58 808.64 850.7 809.5 C854.82 810.36 864.18 812.57 868.3 813.4 C872.42 814.23 881.87 815.96 886 816.6 C890.13 817.24 900.61 818.6 903.7 818.9 C906.79 819.2 909.41 819.57 912.5 819.2 C915.59 818.83 926.07 816.94 930.2 815.7 C934.33 814.46 943.78 810.26 947.9 808.6 C952.02 806.94 961.38 803.36 965.5 801.5 C969.62 799.64 979.48 794.29 983.2 792.7 C986.92 791.11 994.31 788.66 997.4 787.9 C1000.49 787.14 1006.41 786.47 1009.7 786.2 C1012.99 785.93 1022.3 786.03 1025.6 785.6 C1028.9 785.17 1034.25 783.53 1038 782.5 C1041.75 781.47 1053.35 777.87 1057.7 776.8 C1062.05 775.73 1072.01 773.78 1075.3 773.3 C1078.59 772.82 1083.22 772.6 1085.9 772.7 C1088.58 772.81 1095 773.72 1098.3 774.2 C1101.6 774.68 1110.28 775.98 1114.2 776.8 C1118.12 777.62 1127.15 780.27 1131.9 781.2 C1136.65 782.13 1150.16 783.91 1154.9 784.8 C1159.64 785.69 1168.38 787.98 1172.5 788.8 C1176.62 789.62 1186.69 791.24 1190.2 791.8 C1193.71 792.36 1199.92 793.02 1202.6 793.6 C1205.28 794.18 1210.73 796.34 1213.2 796.8 C1215.67 797.25 1221.33 797.63 1223.8 797.5 C1226.27 797.37 1231.93 795.91 1234.4 795.7 C1236.87 795.49 1242.53 795.91 1245 795.7 C1247.47 795.49 1253.53 794.25 1255.6 793.9 C1257.66 793.55 1261.87 792.84 1262.7 792.7" stroke="#f07820" stroke-width="1.05" fill="none" stroke-linejoin="round" />
<path d="M0 781.2 C0.62 781.03 4.34 779.73 6.2 779.5 C8.06 779.27 16.75 779.2 18.6 778.9 C20.45 778.6 23.38 776.66 24.7 776.5 C26.02 776.34 30.51 777.48 31.8 777.3 C33.09 777.12 36.36 774.57 37.6 774.7 C38.84 774.83 42.92 777.82 44.2 778.6 C45.48 779.38 48.64 782.33 50.4 782.5 C52.16 782.67 59.42 780.96 61.8 780.3 C64.18 779.64 71.54 776.78 74.2 775.9 C76.86 775.02 85.75 772.17 88.4 771.5 C91.05 770.83 98.23 769.52 100.7 769.2 C103.17 768.88 111.15 768.16 113.1 768.3 C115.05 768.44 118.26 770.37 120.2 770.6 C122.14 770.83 130.03 770.74 132.5 770.6 C134.97 770.46 142.42 769.55 144.9 769.2 C147.38 768.85 155.36 767.75 157.3 767.1 C159.24 766.45 162.36 764.24 164.3 762.7 C166.24 761.16 173.69 752.89 176.7 751.7 C179.71 750.51 190.87 750.55 194.4 750.8 C197.93 751.05 209 753.15 212 754.2 C215 755.25 221.74 760.13 224.4 761.3 C227.06 762.47 235.95 764.84 238.6 765.9 C241.25 766.96 248.96 771.34 250.9 771.9 C252.84 772.46 256.21 771.01 258 771.5 C259.79 771.99 267.01 775.69 268.8 776.8 C270.59 777.91 273.95 781.49 275.9 782.6 C277.85 783.71 285.12 787.33 288.3 787.9 C291.48 788.47 304.52 787.82 307.7 788.3 C310.88 788.78 317.8 792.12 320.1 792.7 C322.4 793.28 328.4 793.6 330.7 794.1 C333 794.6 340.45 796.96 343.1 797.7 C345.75 798.44 354.55 800.18 357.2 801.5 C359.85 802.82 366.95 809.75 369.6 810.9 C372.25 812.05 381.23 812.75 383.7 813 C386.17 813.25 391.65 813.7 394.3 813.4 C396.95 813.1 407.2 811.01 410.2 810 C413.2 808.99 421.65 804.68 424.3 803.3 C426.95 801.92 434.58 797.35 436.7 796.2 C438.82 795.05 443.73 792.24 445.5 791.8 C447.27 791.36 452.63 791.44 454.4 791.8 C456.17 792.16 461.44 794.83 463.2 795.4 C464.96 795.97 468.99 797.27 472 797.5 C475.01 797.73 490.11 797.44 493.3 797.7 C496.49 797.96 501.78 799.75 503.9 800.1 C506.02 800.45 512.89 801.18 514.5 801.2 C516.11 801.22 518.39 800.62 520 800.3 C521.61 799.98 528.48 797.91 530.6 798 C532.72 798.09 539.08 800.67 541.2 801.2 C543.32 801.73 549.5 802.96 551.8 803.3 C554.1 803.64 561.55 804.74 564.2 804.6 C566.85 804.46 575.83 802.59 578.3 801.9 C580.77 801.21 586.95 798.27 588.9 797.7 C590.85 797.13 595.5 796.22 597.8 796.2 C600.1 796.18 608.72 797.44 611.9 797.5 C615.08 797.56 625.71 797.01 629.6 796.8 C633.49 796.59 647.27 795.46 650.8 795.4 C654.33 795.34 662.43 796.56 664.9 796.2 C667.37 795.84 673.38 792.63 675.5 791.8 C677.62 790.97 683.98 788.96 686.1 787.9 C688.22 786.84 694.4 782.13 696.7 781.2 C699 780.27 706.8 778.86 709.1 778.6 C711.4 778.34 717.67 778.73 719.7 778.6 C721.73 778.47 727.46 777.21 729.4 777.3 C731.34 777.39 737.24 778.84 739.1 779.5 C740.96 780.16 746.23 782.93 748 783.9 C749.77 784.87 754.51 788.23 756.8 789.2 C759.09 790.17 768.43 792.98 770.9 793.6 C773.37 794.22 779.53 794.96 781.5 795.4 C783.47 795.84 788.63 797.21 790.6 798 C792.57 798.79 799.43 802.33 801.2 803.3 C802.97 804.27 806.71 806.85 808.3 807.7 C809.89 808.55 815.16 811.36 817.1 811.8 C819.04 812.24 825.84 812.21 827.7 812.1 C829.56 811.99 833.58 810.61 835.7 810.7 C837.82 810.79 846.34 812.5 848.9 813 C851.46 813.5 858.65 814.94 861.3 815.7 C863.95 816.46 872.93 820.16 875.4 820.6 C877.87 821.04 884.05 820.01 886 820.1 C887.95 820.19 893.13 821.32 894.9 821.5 C896.67 821.68 902.11 822.04 903.7 821.9 C905.29 821.76 909.39 820.81 910.8 820.1 C912.21 819.39 915.86 815.86 917.8 814.8 C919.74 813.74 927.72 810.74 930.2 809.5 C932.68 808.26 939.95 803.6 942.6 802.4 C945.25 801.2 954.41 798.56 956.7 797.5 C958.99 796.44 963.73 792.99 965.5 791.8 C967.27 790.61 972.28 786.83 974.4 785.6 C976.52 784.37 984.23 780.03 986.7 779.5 C989.17 778.97 996.62 779.83 999.1 780.3 C1001.58 780.77 1009.02 783.79 1011.5 784.2 C1013.98 784.61 1021.6 785 1023.9 784.4 C1026.2 783.8 1032.89 778.96 1034.5 778.2 C1036.11 777.44 1038.04 777.47 1040 776.8 C1041.96 776.13 1051.45 772.08 1054.1 771.5 C1056.75 770.92 1063.93 771.18 1066.5 771 C1069.07 770.82 1077.68 769.6 1079.8 769.7 C1081.92 769.8 1085.85 771.32 1087.7 772 C1089.55 772.68 1096 775.75 1098.3 776.5 C1100.6 777.25 1108.4 778.76 1110.7 779.5 C1113 780.24 1119.36 783.16 1121.3 783.9 C1123.24 784.64 1127.8 786.55 1130.1 786.9 C1132.4 787.25 1141.65 787.14 1144.3 787.4 C1146.95 787.66 1154.13 788.88 1156.6 789.5 C1159.07 790.12 1166.52 793.1 1169 793.6 C1171.48 794.1 1179.1 794.29 1181.4 794.5 C1183.7 794.71 1190.06 795.49 1192 795.7 C1193.94 795.91 1199.21 796.05 1200.8 796.6 C1202.39 797.15 1206.57 800.65 1207.9 801.2 C1209.23 801.75 1212.51 802.33 1214.1 802.1 C1215.69 801.87 1222.13 799.66 1223.8 798.9 C1225.47 798.14 1229.48 795.15 1230.8 794.5 C1232.12 793.85 1235.76 792.54 1237 792.4 C1238.24 792.26 1241.7 793.21 1243.2 793.1 C1244.7 792.99 1250.05 791.9 1252 791.3 C1253.95 790.7 1261.63 787.52 1262.7 787.1" stroke="#2040f0" stroke-width="1.05" fill="none" stroke-linejoin="round" />
</g>
<g clip-path="url(#co)">
<path d="M0 872.6 L6.2 870.1 L12.4 874 L18.6 871.3 L25.1 866.6 L31.5 870.5 L37.6 863.4 L44.2 875.8 L50.4 879.7 L56.5 864.6 L62.7 866 L69.3 859.9 L75.5 860.2 L81.8 856 L88 859.9 L100.7 859.3 L106.9 862.9 L113.3 864.6 L119.5 867.8 L125.8 865.2 L132 865.2 L138.4 861.3 L144.7 862 L150.9 865.5 L157.3 859.3 L163.5 859.3 L169.8 841.3 L176 834.2 L182.4 851.9 L188.7 851.4 L194.9 854.9 L201.3 858.1 L207.5 861.1 L213.8 857.2 L220 865.2 L226.4 865.5 L232.6 861.6 L238.9 863.9 L245.3 860.2 L251.5 866 L257.8 861.1 L263.5 868.2 L269.7 870.5 L276.1 879.3 L282.3 876.1 L288.6 883.4 L294.8 886.4 L301.2 891.3 L307.4 881.9 L313.7 885.8 L320.1 889.5 L326.3 885 L332.6 886.4 L338.8 889.5 L345.2 881.6 L351.4 888.1 L357.7 895.2 L363.9 895.2 L370.3 893.1 L376.6 889.4 L382.8 896.4 L389.2 891.7 L395.4 889 L401.7 879.7 L407.9 883.4 L414.3 884.2 L420.5 882.3 L426.8 881.1 L433.2 879.7 L439.4 873.6 L445.5 872.2 L451.9 876.3 L458.3 884.6 L464.5 880.5 L470.8 881.1 L477.4 876.1 L483.5 871 L489.7 869.6 L496.1 870.8 L502.4 876.6 L508.6 874.4 L515 873.6 L521.2 871.9 L526.2 873.6 L533.6 877.5 L540 879.7 L546.2 885 L552.5 885.5 L558.7 888.5 L565.1 889.5 L571.2 886.4 L577.6 885.8 L584 874 L590.2 871 L596.3 873.6 L603.9 880.2 L609.1 880.7 L615.2 880.2 L621.6 879.8 L627.8 874.5 L634.2 874.4 L640.3 876.6 L646.7 878.4 L653.1 877.9 L659.2 878.1 L665.4 873.6 L671.8 869.2 L678.2 866.9 L684.3 866.9 L690.7 861.3 L697.1 862.2 L703.2 866.6 L709.4 866.4 L716.5 873.1 L722.2 869.9 L728.9 862.9 L734.7 865.7 L740.9 868.7 L747.2 871 L754.1 878.1 L759.8 876.6 L766.2 873.5 L772.3 875.4 L778.7 874.9 L785.3 874 L791.3 876.6 L797.5 882.5 L803.9 890.8 L810 893.4 L816.4 898.2 L822.6 896.4 L828.9 890.3 L835.1 891.1 L841.5 892.9 L847.9 895.7 L854 900 L860.2 896.1 L866.6 896.4 L872.9 897.9 L879.1 890.8 L885.5 890.4 L891.7 895.6 L898 894.3 L904.2 897 L910.6 890.8 L916.9 883.4 L923.1 883.4 L929.5 877.2 L935.7 870.8 L942 872.6 L948.2 876.1 L954.6 876.3 L960.8 876.3 L967.1 868.7 L973.3 863.4 L979.7 860.4 L986 860.7 L992.2 862.5 L998.6 860.2 L1004.8 863 L1011.1 868.7 L1017.3 860.7 L1023.7 860.4 L1029.9 849.8 L1036.2 853.3 L1042.4 861.4 L1048.8 856.3 L1055 857.6 L1061.4 863 L1067.6 862.2 L1073.9 859.5 L1080.1 860.7 L1086.5 865.2 L1092.8 870.8 L1099 876.1 L1105.4 875.4 L1111.6 875.4 L1117.9 873.6 L1124.3 873.5 L1130.5 871.3 L1136.7 866.4 L1143 869.2 L1149.4 871 L1155.6 882 L1161.9 883.4 L1168.1 885 L1174.5 886 L1180.7 883.7 L1187 883.4 L1193.4 883.7 L1199.6 885.8 L1205.8 891.7 L1212.1 890.4 L1218.5 879.7 L1224.7 875.8 L1231 874.4 L1237.2 875.4 L1243.6 877 L1249.8 873.1 L1256.1 871.7 L1262.5 870.5" stroke="#2040f0" stroke-width="1.05" fill="none" stroke-linejoin="round" />
</g>
<path d="M712 743.3 H732 M712 745.5 H732 M712 747.7 H732" stroke="#666" stroke-width="1" fill="none"/>
<path d="M712 826 H732 M712 828.2 H732 M712 830.4 H732" stroke="#666" stroke-width="1" fill="none"/>
<rect x="3.9" y="4" width="80" height="22.8" fill="#fff" fill-opacity="0.75"/>
<rect x="4.9" y="5" width="78" height="20.8" fill="#161616" fill-opacity="0.66"/>
<rect x="4.9" y="5" width="2.1" height="20.8" fill="#2e8b74"/>
<text x="15.7" y="19.8" font-size="11" font-weight="bold" fill="#fff">XAU/USD</text>
<rect x="3.9" y="31" width="86" height="22.8" fill="#fff" fill-opacity="0.75"/>
<rect x="4.9" y="32" width="84" height="20.8" fill="#161616" fill-opacity="0.66"/>
<rect x="4.9" y="32" width="2.1" height="20.8" fill="#0a19ff"/>
<text x="15.7" y="46.1" font-size="11" font-weight="bold" fill="#fff">SMA (20,0)</text>
<rect x="3.9" y="58.1" width="86" height="22.8" fill="#fff" fill-opacity="0.75"/>
<rect x="4.9" y="59.1" width="84" height="20.8" fill="#161616" fill-opacity="0.66"/>
<rect x="4.9" y="59.1" width="2.1" height="20.8" fill="#f05a00"/>
<text x="15.7" y="73.2" font-size="11" font-weight="bold" fill="#fff">SMA (55,0)</text>
<rect x="3.9" y="85" width="92.1" height="22.8" fill="#fff" fill-opacity="0.75"/>
<rect x="4.9" y="86" width="90.1" height="20.8" fill="#161616" fill-opacity="0.66"/>
<rect x="4.9" y="86" width="2.1" height="20.8" fill="#b09a00"/>
<text x="15.7" y="100.1" font-size="11" font-weight="bold" fill="#fff">SMA (100,0)</text>
<rect x="3.9" y="753.1" width="111.1" height="22.8" fill="#fff" fill-opacity="0.75"/>
<rect x="4.9" y="754.1" width="109.1" height="20.8" fill="#161616" fill-opacity="0.66"/>
<rect x="4.9" y="754.1" width="2.1" height="20.8" fill="#0a19ff"/>
<text x="15.7" y="768" font-size="11" font-weight="bold" fill="#fff">MACD (12,26,9)</text>
<rect x="3.9" y="835.9" width="81.1" height="22.8" fill="#fff" fill-opacity="0.75"/>
<rect x="4.9" y="836.9" width="79.1" height="20.8" fill="#161616" fill-opacity="0.66"/>
<rect x="4.9" y="836.9" width="2.1" height="20.8" fill="#0a19ff"/>
<text x="15.7" y="851" font-size="11" font-weight="bold" fill="#fff">MOM (20)</text>
<path d="M0 31.3 H1444.5" stroke="#2b4872" stroke-width="1.2" fill="none"/>
<text x="1452" y="11.1" font-size="11" fill="#555">2,075.0000</text>
<text x="1452" y="61.06" font-size="11" fill="#555">2,025.0000</text>
<text x="1452" y="85.99" font-size="11" fill="#555">2,000.0000</text>
<text x="1452" y="109.62" font-size="11" fill="#555">1,975.0000</text>
<text x="1452" y="134.55" font-size="11" fill="#555">1,950.0000</text>
<text x="1452" y="159.48" font-size="11" fill="#555">1,925.0000</text>
<text x="1452" y="184.41" font-size="11" fill="#555">1,900.0000</text>
<text x="1452" y="209.34" font-size="11" fill="#555">1,875.0000</text>
<text x="1452" y="234.27" font-size="11" fill="#555">1,850.0000</text>
<text x="1452" y="260" font-size="11" fill="#555">1,825.0000</text>
<text x="1452" y="284.93" font-size="11" fill="#555">1,800.0000</text>
<text x="1452" y="309.86" font-size="11" fill="#555">1,775.0000</text>
<text x="1452" y="334.79" font-size="11" fill="#555">1,750.0000</text>
<text x="1452" y="359.72" font-size="11" fill="#555">1,725.0000</text>
<text x="1452" y="384.65" font-size="11" fill="#555">1,700.0000</text>
<text x="1452" y="409.58" font-size="11" fill="#555">1,675.0000</text>
<text x="1452" y="434.51" font-size="11" fill="#555">1,650.0000</text>
<text x="1452" y="459.44" font-size="11" fill="#555">1,625.0000</text>
<text x="1452" y="484.37" font-size="11" fill="#555">1,600.0000</text>
<text x="1452" y="509.3" font-size="11" fill="#555">1,575.0000</text>
<text x="1452" y="534.23" font-size="11" fill="#555">1,550.0000</text>
<text x="1452" y="559.16" font-size="11" fill="#555">1,525.0000</text>
<text x="1452" y="584.09" font-size="11" fill="#555">1,500.0000</text>
<text x="1452" y="609.02" font-size="11" fill="#555">1,475.0000</text>
<text x="1452" y="633.95" font-size="11" fill="#555">1,450.0000</text>
<text x="1452" y="658.88" font-size="11" fill="#555">1,425.0000</text>
<text x="1452" y="683.81" font-size="11" fill="#555">1,400.0000</text>
<text x="1452" y="708.74" font-size="11" fill="#555">1,375.0000</text>
<text x="1452" y="733.67" font-size="11" fill="#555">1,350.0000</text>
<text x="1452" y="778" font-size="11" fill="#555">50.0000</text>
<text x="1452" y="802" font-size="11" fill="#555">-0.0000</text>
<text x="1452" y="826.1" font-size="11" fill="#555">-50.0000</text>
<text x="1452" y="882.3" font-size="11" fill="#555">0.0000</text>
<path d="M1447.7 31.3 L1453.5 24 H1511.3 V38.8 H1453.5 Z" fill="#2b4872"/>
<text x="1452.3" y="35.5" font-size="11" font-weight="bold" fill="#fff">2,050.1700</text>
<text x="61" y="918" font-size="11" text-anchor="middle" fill="#777">Apr</text>
<text x="142.8" y="918" font-size="11" text-anchor="middle" fill="#777">Jul</text>
<text x="224.9" y="918" font-size="11" text-anchor="middle" fill="#777">Oct</text>
<text x="308" y="918" font-size="11" text-anchor="middle" fill="#555" font-weight="bold">2021</text>
<text x="387.8" y="918" font-size="11" text-anchor="middle" fill="#777">Apr</text>
<text x="469.9" y="918" font-size="11" text-anchor="middle" fill="#777">Jul</text>
<text x="550.9" y="918" font-size="11" text-anchor="middle" fill="#777">Oct</text>
<text x="640.9" y="918" font-size="11" text-anchor="middle" fill="#555" font-weight="bold">2022</text>
<text x="714.9" y="918" font-size="11" text-anchor="middle" fill="#777">Apr</text>
<text x="795.6" y="918" font-size="11" text-anchor="middle" fill="#777">Jul</text>
<text x="883.6" y="918" font-size="11" text-anchor="middle" fill="#777">Oct</text>
<text x="967.3" y="918" font-size="11" text-anchor="middle" fill="#555" font-weight="bold">2023</text>
<text x="1047.9" y="918" font-size="11" text-anchor="middle" fill="#777">Apr</text>
<text x="1128.9" y="918" font-size="11" text-anchor="middle" fill="#777">Jul</text>
<text x="1210.6" y="918" font-size="11" text-anchor="middle" fill="#777">Oct</text>
<text x="1294.6" y="918" font-size="11" text-anchor="middle" fill="#555" font-weight="bold">2024</text>
<text x="1373.6" y="918" font-size="11" text-anchor="middle" fill="#777">Apr</text>
<g>
<path d="M1441.6 893 L1454 905.4 L1441.6 917.8 L1429.2 905.4 Z" fill="#fff"/>
<path d="M1429.2 905.4 L1441.6 893 L1441.6 896.2 L1432.4 905.4 Z" fill="#8a8a8a"/>
<path d="M1441.6 893 L1454 905.4 L1450.8 905.4 L1441.6 896.2 Z" fill="#3d3431"/>
<path d="M1429.2 905.4 L1441.6 917.8 L1441.6 914.2 L1432.8 905.4 Z" fill="#d8b81c"/>
<path d="M1454 905.4 L1441.6 917.8 L1441.6 914.2 L1450.4 905.4 Z" fill="#6b5416"/>
<path d="M1434 905.4 L1441.6 897.8 L1449.2 905.4" stroke="#4a3b30" stroke-width="1.6" fill="none"/>
<path d="M1434 905.4 L1441.6 913 L1449.2 905.4" stroke="#a8881a" stroke-width="1.6" fill="none"/>
<path d="M1441.6 902.1 L1444.9 905.4 L1441.6 908.7 L1438.3 905.4 Z" stroke="#7bb331" stroke-width="1.3" fill="#fff"/>
</g>
<g filter="url(#sh)" fill="#fff" font-weight="bold">
<text x="1460.3" y="903.7" font-size="10.4" textLength="58" lengthAdjust="spacingAndGlyphs">SINO SOUND</text>
<text x="1460.3" y="913.4" font-size="8" font-family="'Liberation Sans', 'Noto Sans CJK TC', sans-serif" textLength="58" lengthAdjust="spacing">漢聲集團</text>
</g>
</svg>
</body></html>
